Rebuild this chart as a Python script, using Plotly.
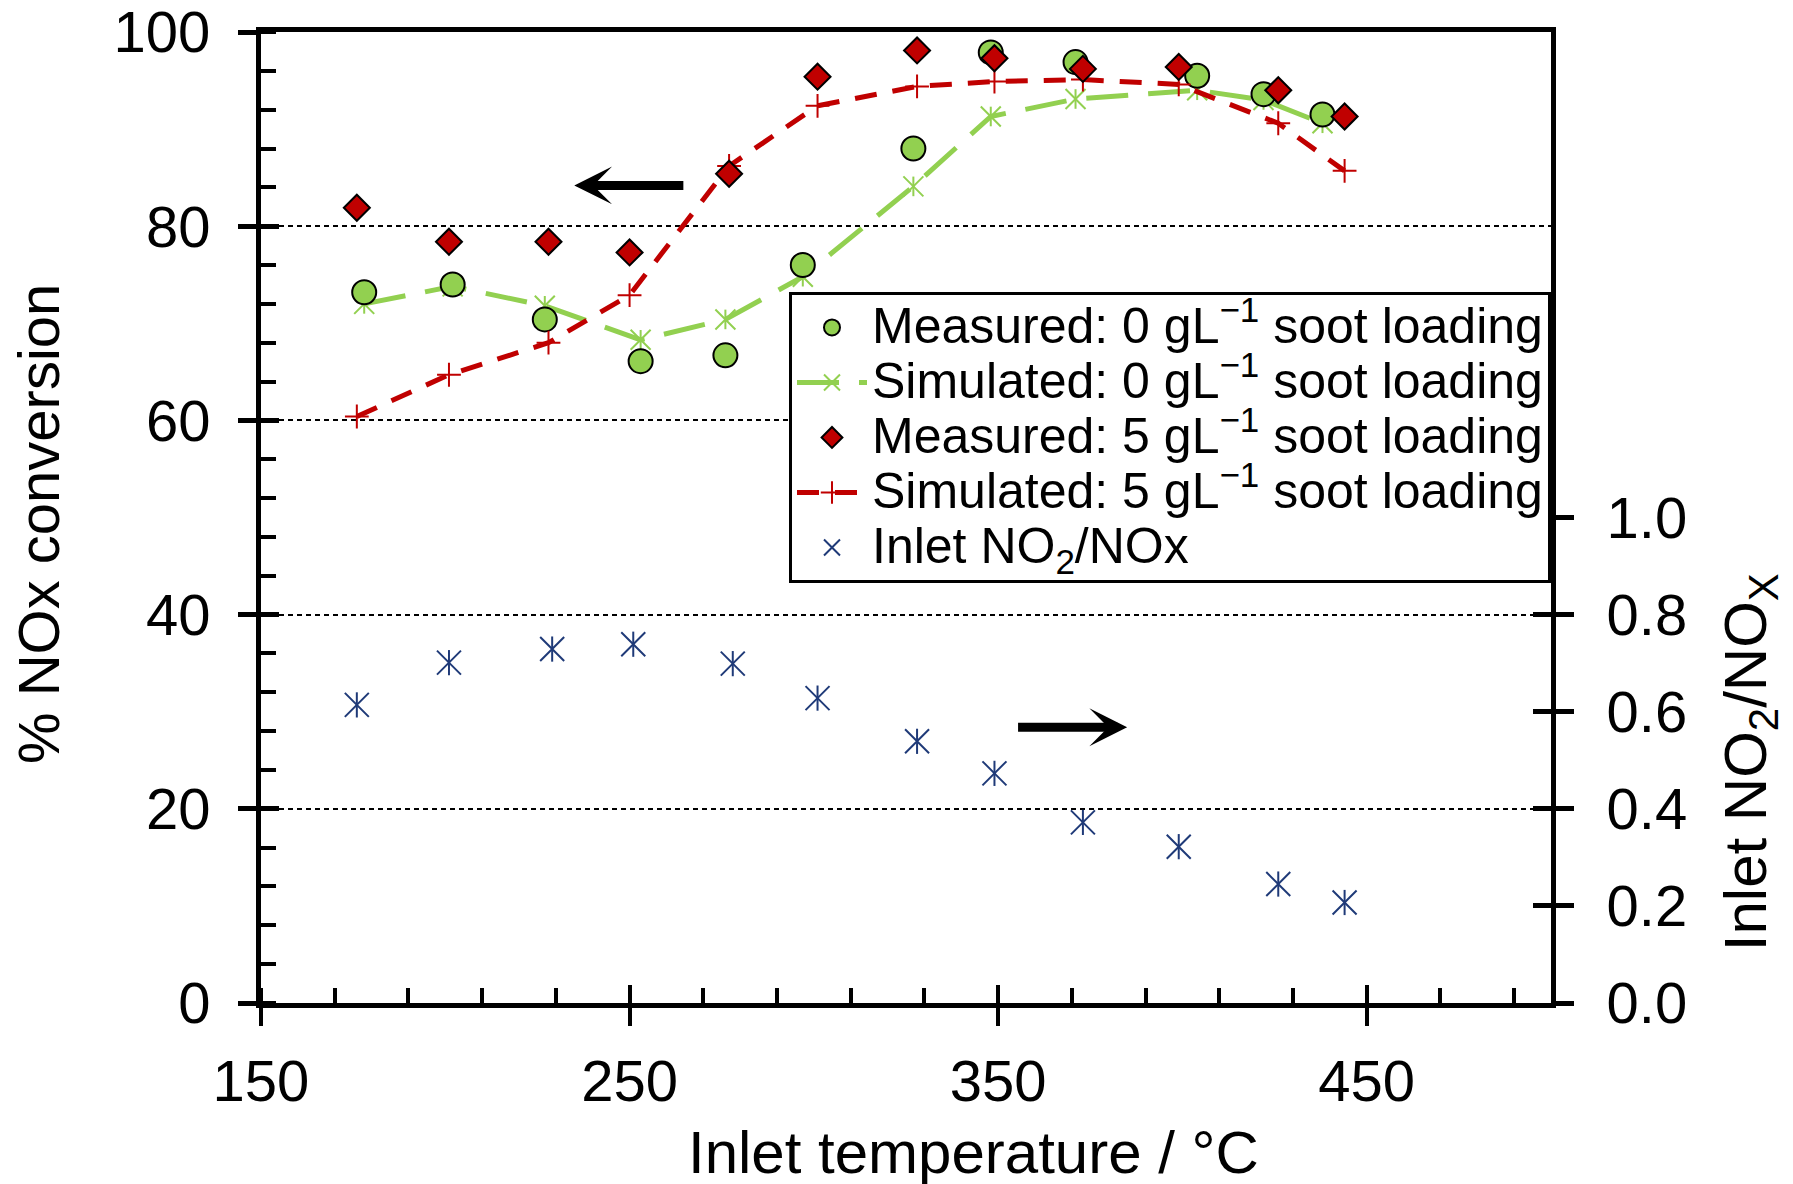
import plotly.graph_objects as go

# Inlet temperature (deg C) and NOx conversion (%) series
temp_meas0 = [178, 202, 227, 253, 276, 297, 327, 348, 371, 404, 422, 438]
conv_meas0 = [73.2, 74.0, 70.4, 66.1, 66.7, 76.0, 88.0, 97.9, 96.9, 95.5, 93.6, 91.5]

temp_sim0 = [178, 202, 227, 253, 276, 297, 327, 348, 371, 404, 422, 438]
conv_sim0 = [72.0, 73.8, 71.8, 68.3, 70.4, 74.8, 84.1, 91.3, 93.1, 94.0, 93.0, 90.6]

temp_meas5 = [176, 201, 228, 250, 277, 301, 328, 349, 373, 399, 426, 444]
conv_meas5 = [81.9, 78.4, 78.4, 77.3, 85.4, 95.4, 98.1, 97.3, 96.2, 96.4, 94.0, 91.3]

temp_sim5 = [176, 201, 228, 250, 277, 301, 328, 349, 373, 399, 426, 444]
conv_sim5 = [60.4, 64.7, 68.0, 72.9, 86.2, 92.4, 94.4, 94.9, 95.1, 94.6, 90.6, 85.7]

temp_inlet = [176, 201, 229, 251, 278, 301, 328, 349, 373, 399, 426, 444]
no2_ratio = [0.614, 0.701, 0.729, 0.739, 0.699, 0.628, 0.539, 0.473, 0.372, 0.322, 0.245, 0.207]

x_ticks = [150, 250, 350, 450]
y_ticks = [0, 20, 40, 60, 80, 100]
y2_ticks = [0.0, 0.2, 0.4, 0.6, 0.8, 1.0]

GREEN = "#92D050"
RED = "#C00000"
NAVY = "#1F3A78"
FONT = "Liberation Sans, Arial, sans-serif"


def legend_label(text):
    # larger glyphs than the legend's base size, which only sets the row pitch
    return "<span style='font-size:50px'>" + text + "</span>"


fig = go.Figure()

# simulated, 0 g/L soot
fig.add_trace(go.Scatter(
    x=temp_sim0, y=conv_sim0, mode="lines+markers",
    name=legend_label("Simulated: 0 gL<sup>−1</sup> soot loading"), legendrank=2,
    line=dict(color=GREEN, width=5, dash="42px,20px"),
    marker=dict(symbol="x-thin-open", size=20, color=GREEN, line=dict(color=GREEN, width=2)),
))
fig.add_trace(go.Scatter(
    x=temp_sim0, y=conv_sim0, mode="markers", showlegend=False, hoverinfo="skip",
    marker=dict(symbol="line-ns-open", size=14, color=GREEN, line=dict(color=GREEN, width=2)),
))
# measured, 0 g/L soot
fig.add_trace(go.Scatter(
    x=temp_meas0, y=conv_meas0, mode="markers",
    name=legend_label("Measured: 0 gL<sup>−1</sup> soot loading"), legendrank=1,
    marker=dict(symbol="circle", size=24, color=GREEN, line=dict(color="black", width=2)),
))
# simulated, 5 g/L soot
fig.add_trace(go.Scatter(
    x=temp_sim5, y=conv_sim5, mode="lines+markers",
    name=legend_label("Simulated: 5 gL<sup>−1</sup> soot loading"), legendrank=4,
    line=dict(color=RED, width=5, dash="22px,16px"),
    marker=dict(symbol="cross-thin-open", size=17, color=RED, line=dict(color=RED, width=2)),
))
# measured, 5 g/L soot
fig.add_trace(go.Scatter(
    x=temp_meas5, y=conv_meas5, mode="markers",
    name=legend_label("Measured: 5 gL<sup>−1</sup> soot loading"), legendrank=3,
    marker=dict(symbol="diamond", size=20, color=RED, line=dict(color="black", width=2)),
))
# inlet NO2/NOx ratio on the secondary axis
fig.add_trace(go.Scatter(
    x=temp_inlet, y=no2_ratio, mode="markers", yaxis="y2",
    name=legend_label("Inlet NO<sub>2</sub>/NOx"), legendrank=5,
    marker=dict(symbol="x-thin-open", size=24, color=NAVY, line=dict(color=NAVY, width=2)),
))
fig.add_trace(go.Scatter(
    x=temp_inlet, y=no2_ratio, mode="markers", yaxis="y2", showlegend=False, hoverinfo="skip",
    marker=dict(symbol="line-ns-open", size=18, color=NAVY, line=dict(color=NAVY, width=2)),
))
# empty traces that hold the overlay axes carrying the inner half of major ticks
fig.add_trace(go.Scatter(x=[], y=[], xaxis="x3", yaxis="y3", showlegend=False))
fig.add_trace(go.Scatter(x=[], y=[], xaxis="x", yaxis="y4", showlegend=False))

tickfont = dict(family=FONT, size=58, color="black")

fig.update_layout(
    width=1793, height=1184,
    margin=dict(l=261, r=242, t=32, b=181, autoexpand=False),
    paper_bgcolor="white", plot_bgcolor="white",
    font=dict(family=FONT, color="black"),
    xaxis=dict(
        range=[150, 500], tickvals=x_ticks, ticks="outside", ticklen=18, tickwidth=4,
        tickcolor="black", showline=True, linewidth=5, linecolor="black", mirror=True,
        showgrid=False, zeroline=False, tickfont=tickfont, ticklabelstandoff=5,
        automargin=False, ticklabeloverflow="allow",
        minor=dict(ticks="inside", tick0=150, dtick=20, ticklen=15, tickwidth=4,
                   tickcolor="black", showgrid=False),
    ),
    yaxis=dict(
        range=[0, 100], tickvals=y_ticks, ticks="outside", ticklen=18, tickwidth=5,
        tickcolor="black", showline=True, linewidth=5, linecolor="black",
        showgrid=True, gridcolor="black", gridwidth=1.5, griddash="5px,4px",
        zeroline=False, tickfont=tickfont, ticklabelstandoff=16, automargin=False,
        ticklabeloverflow="allow",
        minor=dict(ticks="inside", dtick=4, ticklen=15, tickwidth=4,
                   tickcolor="black", showgrid=False),
    ),
    yaxis2=dict(
        range=[0, 2], tickvals=y2_ticks, tickformat=".1f", overlaying="y", side="right",
        anchor="x", ticks="outside", ticklen=18, tickwidth=5, tickcolor="black",
        showline=True, linewidth=5, linecolor="black", showgrid=False, zeroline=False,
        tickfont=tickfont, ticklabelstandoff=21, automargin=False,
        ticklabeloverflow="allow",
    ),
    xaxis3=dict(
        range=[150, 500], tickvals=x_ticks, overlaying="x", anchor="y3", ticks="inside",
        ticklen=18, tickwidth=4, tickcolor="black", showticklabels=False,
        showline=False, showgrid=False, zeroline=False, automargin=False,
    ),
    yaxis3=dict(
        range=[0, 100], tickvals=y_ticks, overlaying="y", anchor="x3", ticks="inside",
        ticklen=18, tickwidth=5, tickcolor="black", showticklabels=False,
        showline=False, showgrid=False, zeroline=False, automargin=False,
    ),
    yaxis4=dict(
        range=[0, 2], tickvals=y2_ticks, overlaying="y", side="right", anchor="x",
        ticks="inside", ticklen=18, tickwidth=5, tickcolor="black", showticklabels=False,
        showline=False, showgrid=False, zeroline=False, automargin=False,
    ),
    legend=dict(
        x=0.4093, y=0.7323, xanchor="left", yanchor="top",
        bgcolor="white", bordercolor="black", borderwidth=3,
        font=dict(family=FONT, size=40, color="black"),
        itemwidth=70, traceorder="normal", tracegroupgap=0,
    ),
    showlegend=True,
)

# axis titles
fig.add_annotation(text="Inlet temperature / °C", xref="paper", yref="paper",
                   x=0.5527, y=-0.1535, xanchor="center", yanchor="middle",
                   showarrow=False, font=dict(family=FONT, size=60, color="black"))
fig.add_annotation(text="% NOx conversion", xref="paper", yref="paper",
                   x=-0.1729, y=0.4933, xanchor="center", yanchor="middle", textangle=-90,
                   showarrow=False, font=dict(family=FONT, size=58, color="black"))
fig.add_annotation(text="Inlet NO<sub>2</sub>/NO<sub>X</sub>", xref="paper", yref="paper",
                   x=1.1543, y=0.248, xanchor="center", yanchor="middle", textangle=-90,
                   showarrow=False, font=dict(family=FONT, size=60, color="black"))

# arrows pointing each series group to its axis
fig.add_annotation(x=235, y=84.2, ax=265, ay=84.2, xref="x", yref="y", axref="x", ayref="y",
                   text="", showarrow=True, arrowhead=3, arrowsize=0.7, arrowwidth=9,
                   arrowcolor="black", standoff=0, startstandoff=0)
fig.add_annotation(x=385, y=28.4, ax=355, ay=28.4, xref="x", yref="y", axref="x", ayref="y",
                   text="", showarrow=True, arrowhead=3, arrowsize=0.7, arrowwidth=9,
                   arrowcolor="black", standoff=0, startstandoff=0)

fig.write_html("out.html")
